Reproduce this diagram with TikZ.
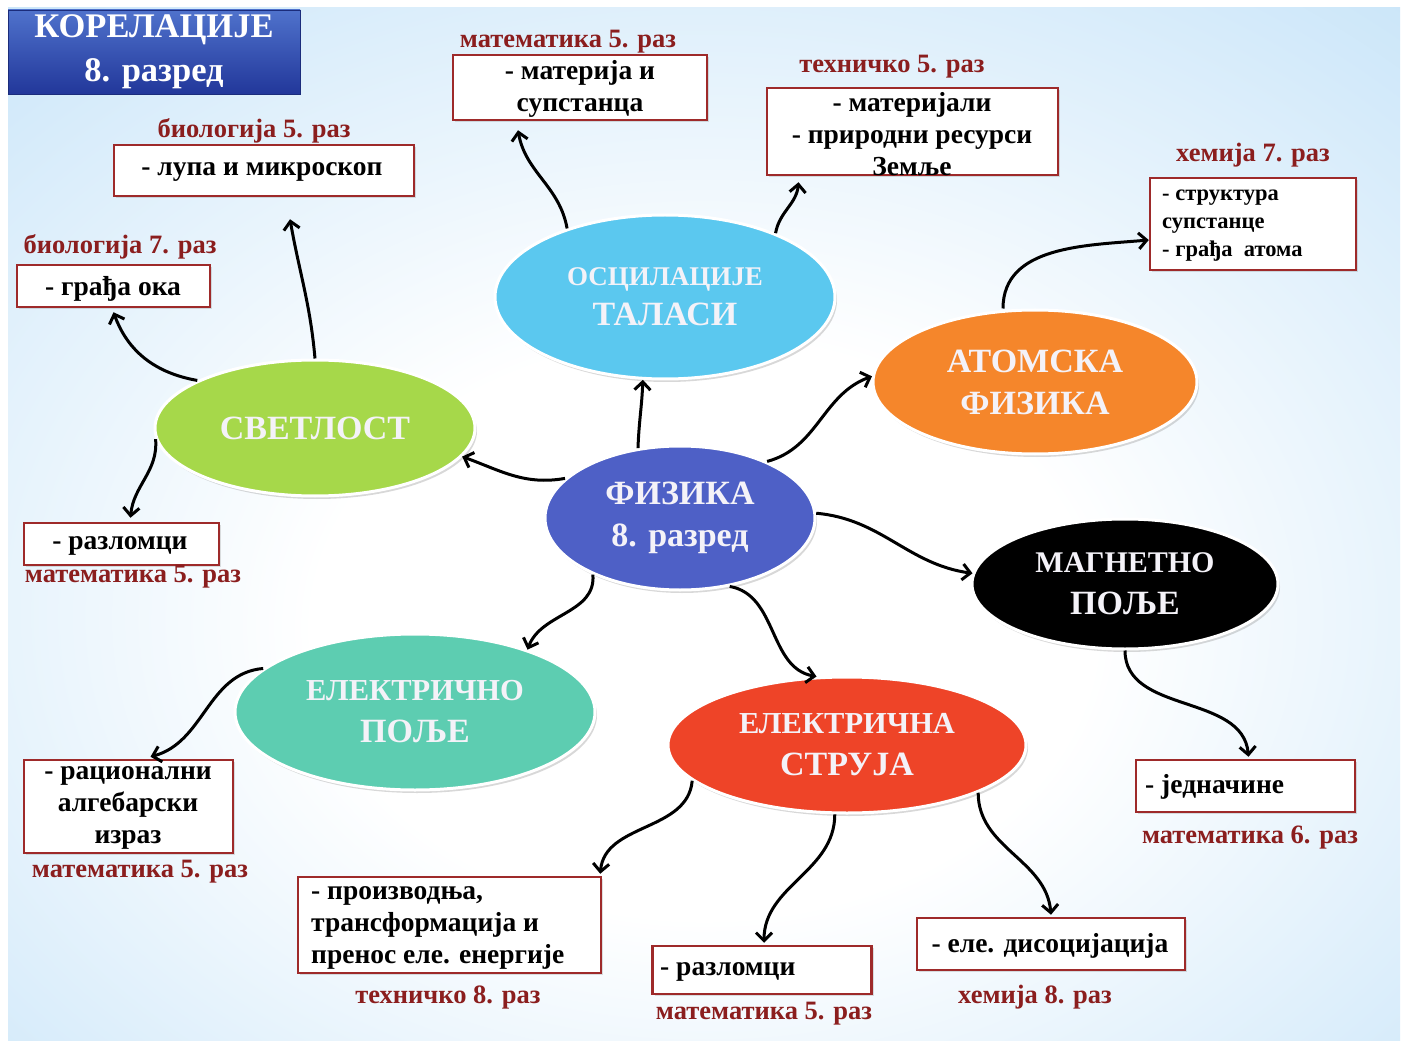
\documentclass[tikz,border=0pt]{standalone}
\usepackage{fontspec}
\setmainfont{Liberation Serif}
\usetikzlibrary{shapes.geometric,arrows.meta,shadows}
\definecolor{bgblue}{HTML}{A2D2F4}
\definecolor{lblred}{HTML}{8B1E1E}
\definecolor{boxred}{HTML}{9E2A2A}
\definecolor{ccyan}{HTML}{5BC8EF}
\definecolor{cgreen}{HTML}{A6D84A}
\definecolor{cblue}{HTML}{4E60C6}
\definecolor{corange}{HTML}{F5862B}
\definecolor{cteal}{HTML}{5DCDB1}
\definecolor{cred}{HTML}{EE4428}
\definecolor{ttop}{HTML}{4F72CC}
\definecolor{tbot}{HTML}{22379A}
\definecolor{bubtext}{HTML}{F4F2F8}
\pgfdeclareradialshading{bgshade}{\pgfpoint{0bp}{-6bp}}{color(0bp)=(white);color(14bp)=(white);color(38bp)=(bgblue!55);color(55bp)=(bgblue);color(90bp)=(bgblue)}
\newcommand{\fsz}[1]{\fontsize{#1}{#1}\selectfont}
\begin{document}
\begin{tikzpicture}[x=1pt,y=1pt,
  bubble/.style={ellipse, draw=white, line width=3pt, inner sep=0pt, text=bubtext,
    font=\fontsize{34}{42}\selectfont\bfseries, align=center,
    drop shadow={opacity=0.3,shadow xshift=2pt,shadow yshift=-3pt}},
  corrbox/.style={rectangle, draw=boxred, line width=2.5pt, fill=white, inner sep=0pt,
    drop shadow={opacity=0.25,shadow xshift=2pt,shadow yshift=-2pt}},
  boxtext/.style={inner sep=0pt, font=\fontsize{27.5}{32}\selectfont\bfseries, text=black},
  smalltext/.style={inner sep=0pt, font=\fontsize{22.5}{28}\selectfont\bfseries, text=black},
  subj/.style={inner sep=0pt, font=\fontsize{26.5}{30}\selectfont\bfseries, text=lblred},
  conn/.style={draw=black, line width=3pt, -{Straight Barb[length=8pt,width=16pt]}},
  titlebox/.style={rectangle, top color=ttop, bottom color=tbot, draw=tbot!80!black, line width=0.8pt,
    text=white, font=\fontsize{34.5}{44}\selectfont\bfseries, align=center, inner sep=0pt}
]
\useasboundingbox (0,0) rectangle (1408,-1048);
\fill[white] (0,0) rectangle (1408,-1048);
\shade[shading=bgshade] (8,-8) rectangle (1400,-1040);

% title
\node[titlebox, minimum width=292, minimum height=84] (title) at (154,-52) {КОРЕЛАЦИЈЕ\\8. разред};

% bubbles
\node[bubble, fill=ccyan, minimum width=340, minimum height=164] (osc) at (665,-297)
  {{\fsz{27}ОСЦИЛАЦИЈЕ}\\[-2pt]ТАЛАСИ};
\node[bubble, fill=cgreen, minimum width=320, minimum height=136] (svet) at (315,-428) {СВЕТЛОСТ};
\node[bubble, fill=cblue, minimum width=270, minimum height=144] (fiz) at (680,-518) {ФИЗИКА\\8. разред};
\node[bubble, fill=corange, minimum width=324, minimum height=144] (atom) at (1035,-382) {АТОМСКА\\ФИЗИКА};
\node[bubble, fill=black, minimum width=306, minimum height=130] (mag) at (1125,-584) {{\fsz{30}МАГНЕТНО}\\ПОЉЕ};
\node[bubble, fill=cteal, minimum width=360, minimum height=156] (elp) at (415,-712) {{\fsz{30.5}ЕЛЕКТРИЧНО}\\ПОЉЕ};
\node[bubble, fill=cred, minimum width=358, minimum height=136] (str) at (847,-745) {{\fsz{30.5}ЕЛЕКТРИЧНА}\\СТРУЈА};

% boxes
\node[corrbox, minimum width=254, minimum height=65] (bm5) at (580,-87.5) {};
\node[corrbox, minimum width=291, minimum height=87] (bt5) at (912.5,-131.5) {};
\node[corrbox, minimum width=300, minimum height=51] (bb5) at (264,-170.5) {};
\node[corrbox, minimum width=193, minimum height=42] (bb7) at (113.5,-286) {};
\node[corrbox, minimum width=206, minimum height=92] (bh7) at (1253,-224) {};
\node[corrbox, minimum width=195, minimum height=42] (bm5b) at (121.5,-544) {};
\node[corrbox, minimum width=219, minimum height=52] (bm6) at (1245.5,-786) {};
\node[corrbox, minimum width=209, minimum height=93] (bm5c) at (128.5,-806.5) {};
\node[corrbox, minimum width=303, minimum height=96] (bt8) at (449.5,-925) {};
\node[corrbox, minimum width=219, minimum height=48] (bm5d) at (762,-970) {};
\node[corrbox, minimum width=268, minimum height=52] (bh8) at (1051,-944) {};

% box texts
\node[boxtext, align=center] (tm5) at (580,-89) {- материја и\\супстанца};
\node[boxtext, align=center] (tt5) at (912,-134) {- материјали\\- природни ресурси\\Земље};
\node[boxtext] (tb5) at (262,-172) {- лупа и микроскоп};
\node[boxtext] (tb7) at (113,-289) {- грађа ока};
\node[smalltext, align=left, anchor=west] (th7) at (1162,-226) {- структура\\супстанце\\- грађа\ \ атома};
\node[boxtext] (tm5b) at (120,-546) {- разломци};
\node[boxtext, anchor=west] (tm6) at (1145,-787) {- једначине};
\node[boxtext, align=center] (tm5c) at (128,-808) {- рационални\\алгебарски\\израз};
\node[boxtext, align=left, anchor=west] (tt8) at (311,-928) {- производња,\\трансформација и\\пренос еле. енергије};
\node[boxtext, anchor=west] (tm5d) at (660,-972) {- разломци};
\node[boxtext] (th8) at (1050,-946) {- еле. дисоцијација};

% subject labels
\node[subj] (lm5) at (568,-42) {математика 5. раз};
\node[subj] (lt5) at (892,-67) {техничко 5. раз};
\node[subj] (lb5) at (254,-131) {биологија 5. раз};
\node[subj] (lb7) at (120,-247) {биологија 7. раз};
\node[subj] (lh7) at (1253,-155) {хемија 7. раз};
\node[subj] (lm5b) at (133,-577) {математика 5. раз};
\node[subj] (lm6) at (1250,-838) {математика 6. раз};
\node[subj] (lm5c) at (140,-872) {математика 5. раз};
\node[subj] (lt8) at (448,-998) {техничко 8. раз};
\node[subj] (lm5d) at (764,-1014) {математика 5. раз};
\node[subj] (lh8) at (1035,-997) {хемија 8. раз};

% connectors from the centre
\draw[conn] (fiz.161) to[out=190,in=-20] (svet.-11);
\draw[conn] (fiz.121) to[out=88,in=-92] (osc.255);
\draw[conn] (fiz.33) to[out=15,in=200] (atom.178);
\draw[conn] (fiz.2) to[out=-5,in=172] (mag.176);
\draw[conn] (fiz.213) to[out=-85,in=70] (elp.29);
\draw[conn] (fiz.-54) to[out=-10,in=170] (str.114);

% connectors to the boxes
\draw[conn] (osc.145) to[out=100,in=-80] ([xshift=-62pt,yshift=-9pt]bm5.south);
\draw[conn] (osc.30) to[out=80,in=-95] ([xshift=-114pt,yshift=-6pt]bt5.south);
\draw[conn] (svet.north) to[out=95,in=-80] ([xshift=26pt,yshift=-22pt]bb5.south);
\draw[conn] (svet.158) to[out=170,in=-70] ([yshift=-4pt]bb7.south);
\draw[conn] (svet.184) to[out=-85,in=85] ([xshift=9pt,yshift=4pt]bm5b.north);
\draw[conn] ([xshift=-32pt]atom.north) to[out=90,in=185] ([yshift=-16pt]bh7.west);
\draw[conn] (mag.south) to[out=-90,in=95] ([xshift=3pt,yshift=2pt]bm6.north);
\draw[conn] (elp.164) to[out=185,in=15] ([xshift=22pt,yshift=2pt]bm5c.north);
\draw[conn] (str.193) to[out=-95,in=85] ([xshift=-2pt,yshift=2pt]bt8.north east);
\draw[conn] (str.-100) to[out=-90,in=90] ([xshift=2pt,yshift=2pt]bm5d.north);
\draw[conn] (str.-20) to[out=-90,in=95] ([yshift=2pt]bh8.north);
\end{tikzpicture}
\end{document}
